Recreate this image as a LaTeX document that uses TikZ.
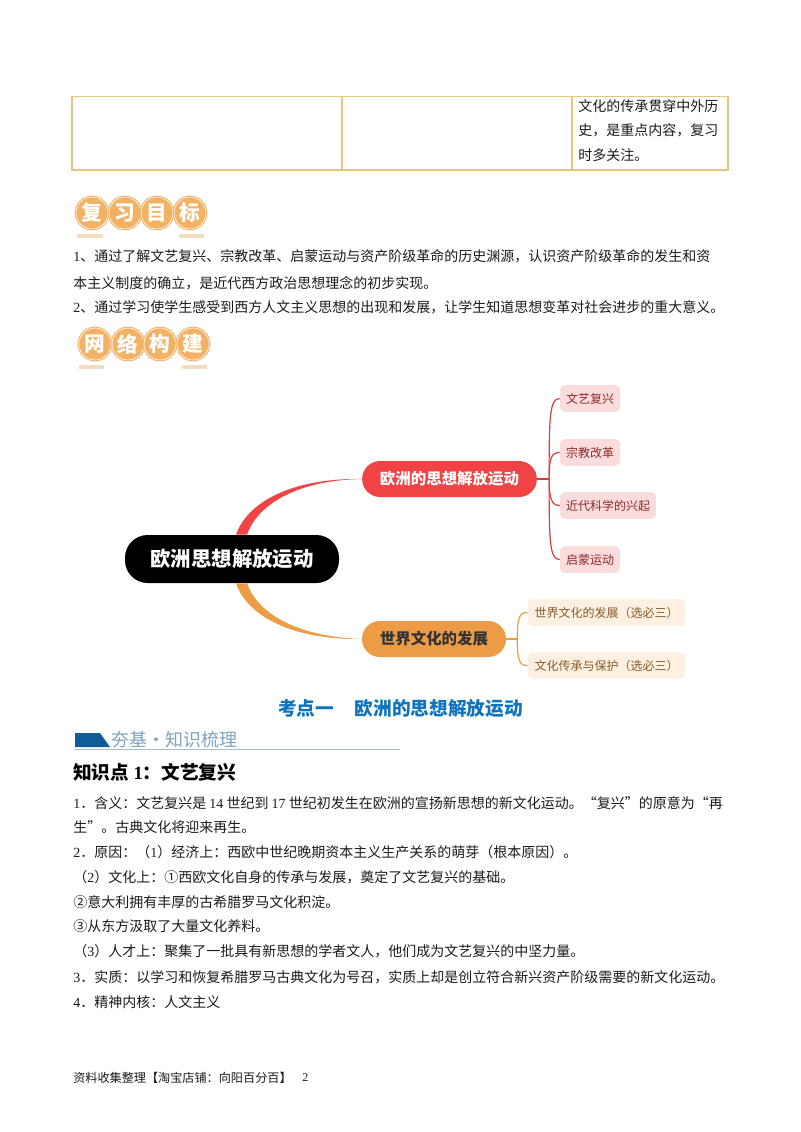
\documentclass[tikz,border=0pt]{standalone}
\usepackage{fontspec}
\setmainfont{Noto Sans CJK SC}
\newfontfamily\latinf{Liberation Serif}
\newcommand{\LT}[1]{{\latinf #1}}
\newcommand{\fs}[1]{\fontsize{#1}{#1}\selectfont}
\usetikzlibrary{calc}
\definecolor{tbl}{HTML}{E6C67C}
\definecolor{badge}{HTML}{F3B163}
\definecolor{badgebar}{HTML}{F3DDBE}
\definecolor{redn}{HTML}{F04343}
\definecolor{orgn}{HTML}{EE9B45}
\definecolor{pinkf}{HTML}{FBDCDC}
\definecolor{pinkt}{HTML}{8E2A2A}
\definecolor{creamf}{HTML}{FCF0E3}
\definecolor{creamt}{HTML}{8A5A26}
\definecolor{blueh}{HTML}{0F74BD}
\definecolor{bannerb}{HTML}{0F5C99}
\definecolor{bannert}{HTML}{7FA3BC}
\definecolor{bodyt}{HTML}{1A1A1A}
\tikzset{
  bodyline/.style={anchor=west,inner sep=0pt,text=bodyt,font=\fs{10.5pt}},
  coin/.style={circle,fill=badge,draw=badge,double=white,double distance=0.45pt,line width=0.8pt,minimum size=24pt,inner sep=0pt,text=white,font=\fs{15.5pt}\bfseries},
  cbar/.style={fill=badgebar,draw=none},
  mainn/.style={rounded corners=13.4pt,inner sep=0pt,font=\fs{11.6pt}\bfseries,minimum height=27pt},
  subred/.style={fill=pinkf,text=pinkt,rounded corners=3.5pt,minimum height=20pt,inner sep=0pt,font=\fs{9pt}},
  subcream/.style={fill=creamf,text=creamt,rounded corners=3.5pt,minimum height=20pt,minimum width=118pt,inner sep=0pt,font=\fs{9pt}},
  redline/.style={draw=redn!90!black,line width=0.9pt},
  orgline/.style={draw=orgn,line width=0.9pt}
}
\begin{document}
\begin{tikzpicture}[x=0.75pt,y=-0.75pt]
\useasboundingbox (0,0) rectangle (800,1132);
% table
\draw[tbl,line width=1.1pt] (72,96.5) rectangle (728,170);
\draw[tbl,line width=1.1pt] (342,96.5) -- (342,170);
\draw[tbl,line width=1.1pt] (572,96.5) -- (572,170);
\node[bodyline] (t1) at (578,106) {文化的传承贯穿中外历};
\node[bodyline] (t2) at (578,130) {史，是重点内容，复习};
\node[bodyline] (t3) at (578,155) {时多关注。};
% badge 1
\fill[cbar] (77,233.5) rectangle (103,238);
\fill[cbar] (179,233.5) rectangle (204,238);
\node[coin] (c1) at (92,213) {复};
\node[coin] (c2) at (125,213) {习};
\node[coin] (c3) at (157,213) {目};
\node[coin] (c4) at (190,213) {标};
\node[bodyline] (p1) at (73,256) {\LT{1}、通过了解文艺复兴、宗教改革、启蒙运动与资产阶级革命的历史渊源，认识资产阶级革命的发生和资};
\node[bodyline] (p2) at (73,283) {本主义制度的确立，是近代西方政治思想理念的初步实现。};
\node[bodyline] (p3) at (73,307) {\LT{2}、通过学习使学生感受到西方人文主义思想的出现和发展，让学生知道思想变革对社会进步的重大意义。};
% badge 2
\fill[cbar] (79,364.5) rectangle (104,369);
\fill[cbar] (182,364.5) rectangle (207,369);
\node[coin] (d1) at (95,344) {网};
\node[coin] (d2) at (128,344) {络};
\node[coin] (d3) at (160,344) {构};
\node[coin] (d4) at (193,344) {建};
% mind map nodes
\node[mainn,fill=black,text=white,minimum width=160.5pt,minimum height=36pt,rounded corners=17pt,font=\fs{15.3pt}\bfseries] (root) at (232,559) {欧洲思想解放运动};
\node[mainn,fill=redn,text=white,minimum width=131pt] (red) at (449.5,479) {欧洲的思想解放运动};
\node[mainn,fill=orgn,text=black!80,minimum width=108pt] (org) at (434,639) {世界文化的发展};
\node[subred,minimum width=45pt] (a1) at (590,398.5) {文艺复兴};
\node[subred,minimum width=45pt] (a2) at (590,452.5) {宗教改革};
\node[subred,minimum width=72pt] (a3) at (608,505.5) {近代科学的兴起};
\node[subred,minimum width=45pt] (a4) at (590,559.5) {启蒙运动};
\node[subcream] (b1) at (606.5,612.5) {世界文化的发展（选必三）};
\node[subcream] (b2) at (606.5,665.5) {文化传承与保护（选必三）};
% tapered branches
\coordinate (rl) at ($(root.north)+(4,0)$);
\coordinate (rr) at ($(root.north)+(15,0)$);
\coordinate (ol) at ($(root.south)+(4,0)$);
\coordinate (or) at ($(root.south)+(15,0)$);
\fill[redn] (rl) .. controls (247,503) and (290,478) .. (red.west) .. controls (300,480) and (258,503) .. (rr) -- cycle;
\fill[orgn] (ol) .. controls (247,615) and (290,640) .. (org.west) .. controls (300,637) and (258,615) .. (or) -- cycle;
% thin branches
\coordinate (rs) at ($(red.east)+(12,0)$);
\coordinate (os) at ($(org.east)+(11,0)$);
\draw[redline] (red.east) -- (rs);
\draw[redline] (rs) .. controls +(0,-64) and +(-10,0) .. (a1.west);
\draw[redline] (rs) .. controls +(0,-22) and +(-8,0) .. (a2.west);
\draw[redline] (rs) .. controls +(0,20) and +(-8,0) .. (a3.west);
\draw[redline] (rs) .. controls +(0,64) and +(-10,0) .. (a4.west);
\draw[orgline] (org.east) -- (os);
\draw[orgline] (os) .. controls +(0,-22) and +(-8,0) .. (b1.west);
\draw[orgline] (os) .. controls +(0,22) and +(-8,0) .. (b2.west);
% section title
\node[anchor=west,inner sep=0pt,text=blueh,font=\fs{14pt}\bfseries] (title) at (278,708) {考点一\hspace{15.5pt}欧洲的思想解放运动};
% banner
\fill[bannerb] (75,733) -- (100,733) -- (110,747) -- (75,747) -- cycle;
\node[anchor=west,inner sep=0pt,text=bannert,font=\fs{13.5pt}] (bt) at (111,740) {夯基·知识梳理};
\coordinate (bl1) at (75,749.5);
\coordinate (bl2) at (400,749.5);
\draw[bannert!70,line width=0.8pt] (bl1) -- (bl2);
\node[anchor=west,inner sep=0pt,text=black,font=\fs{14pt}\bfseries] (h1) at (73,772) {知识点 {\latinf\bfseries 1}：文艺复兴};
% body
\node[bodyline] (q1) at (73,803) {\LT{1}．含义：文艺复兴是 \LT{14} 世纪到 \LT{17} 世纪初发生在欧洲的宣扬新思想的新文化运动。“复兴”的原意为“再};
\node[bodyline] (q2) at (73,827) {生”。古典文化将迎来再生。};
\node[bodyline] (q3) at (73,852) {\LT{2}．原因：（\LT{1}）经济上：西欧中世纪晚期资本主义生产关系的萌芽（根本原因）。};
\node[bodyline] (q4) at (73,877) {（\LT{2}）文化上：①西欧文化自身的传承与发展，奠定了文艺复兴的基础。};
\node[bodyline] (q5) at (73,902) {②意大利拥有丰厚的古希腊罗马文化积淀。};
\node[bodyline] (q6) at (73,926) {③从东方汲取了大量文化养料。};
\node[bodyline] (q7) at (73,951) {（\LT{3}）人才上：聚集了一批具有新思想的学者文人，他们成为文艺复兴的中坚力量。};
\node[bodyline] (q8) at (73,977) {\LT{3}．实质：以学习和恢复希腊罗马古典文化为号召，实质上却是创立符合新兴资产阶级需要的新文化运动。};
\node[bodyline] (q9) at (73,1002) {\LT{4}．精神内核：人文主义};
% footer
\node[bodyline,font=\fs{9.1pt}] (f1) at (73,1078) {资料收集整理【淘宝店铺：向阳百分百】};
\node[bodyline,font=\fs{9pt}] (f2) at (302,1078) {\LT{2}};
\end{tikzpicture}
\end{document}
